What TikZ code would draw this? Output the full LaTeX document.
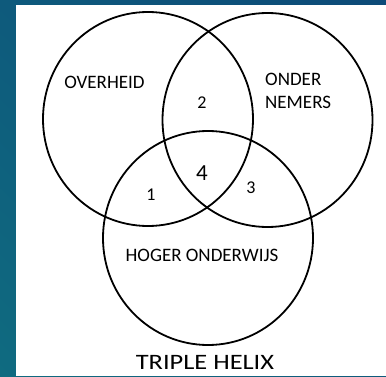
\documentclass[tikz,border=0pt]{standalone}
\usepackage{fontspec}
\setmainfont{Carlito}
\usetikzlibrary{shadings}
\definecolor{bgteal}{HTML}{0F6B80}
\definecolor{bgblue}{HTML}{0D4A78}
\definecolor{bgmid}{HTML}{0E5A7C}

\begin{document}
\begin{tikzpicture}[x=1pt, y=1pt,
    ring/.style={line width=1.8pt},
    lbl/.style={font=\fontsize{19}{23}\selectfont, inner sep=0pt},
    num/.style={font=\fontsize{18}{19}\selectfont, inner sep=0pt}]
\shade [lower left=bgteal, upper right=bgblue, upper left=bgmid, lower right=bgmid] (0,0) rectangle (386,376);
\fill [white] (16,0) rectangle (386,371);
\useasboundingbox (0,0) rectangle (386,376);
\foreach \cx/\cy/\n in {148/257/overheid, 267.5/256/bedrijf, 208/138/onderwijs} {%
    \coordinate (\n) at (\cx,\cy);
    \draw [ring] (\n) ellipse [x radius=105, y radius=107];
}
\node [lbl] (tOverheid) at (104.5,294) {OVERHEID};
\node [lbl, anchor=west, align=left] (tOndernemers) at (265,285.5) {ONDER\\NEMERS};
\node [lbl] (tOnderwijs) at (202,121) {HOGER ONDERWIJS};
\node [num] (n1) at (151,181) {1};
\node [num] (n2) at (202,273) {2};
\node [num] (n3) at (251,188) {3};
\node [num, font=\fontsize{23}{24}\selectfont] (n4) at (202,203) {4};
\node [inner sep=0pt, xscale=1.2, font=\fontsize{22}{24}\selectfont] (titel) at (205,13.5) {TRIPLE HELIX};
\end{tikzpicture}
\end{document}
